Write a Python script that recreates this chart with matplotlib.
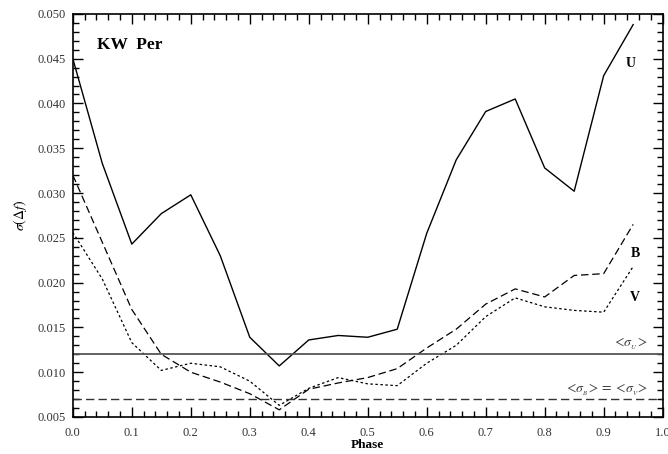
import numpy as np
import matplotlib
matplotlib.use("Agg")
import matplotlib.pyplot as plt
from matplotlib.ticker import MultipleLocator

plt.rcParams["font.family"] = ["Liberation Serif", "DejaVu Serif"]
plt.rcParams["mathtext.fontset"] = "stix"

phase = [0.0, 0.05, 0.1, 0.15, 0.2, 0.25, 0.3, 0.35, 0.4, 0.45,
         0.5, 0.55, 0.6, 0.65, 0.7, 0.75, 0.8, 0.85, 0.9, 0.95]
sig_u = [0.0450, 0.0333, 0.0243, 0.0277, 0.0298, 0.0230, 0.0139, 0.0107, 0.0136, 0.0141,
         0.0139, 0.0148, 0.0255, 0.0337, 0.0391, 0.0405, 0.0328, 0.0302, 0.0431, 0.0488]
sig_b = [0.0320, 0.0245, 0.0170, 0.0120, 0.0100, 0.0089, 0.0076, 0.0058, 0.0081, 0.0088,
         0.0094, 0.0104, 0.0127, 0.0148, 0.0176, 0.0193, 0.0184, 0.0208, 0.0210, 0.0265]
sig_v = [0.0256, 0.0204, 0.0133, 0.0102, 0.0110, 0.0106, 0.0090, 0.0063, 0.0082, 0.0094,
         0.0087, 0.0085, 0.0110, 0.0130, 0.0162, 0.0183, 0.0173, 0.0169, 0.0167, 0.0218]
mean_u = 0.012
mean_bv = 0.007

fig = plt.figure(figsize=(6.68, 4.54), dpi=100)
ax = fig.add_axes([0.109, 0.0815, 0.883, 0.888])

ax.plot(phase, sig_u, color="black", lw=1.0, ls="-")
ax.plot(phase, sig_b, color="black", lw=0.9, ls=(0, (6, 3)))
ax.plot(phase, sig_v, color="black", lw=0.9, ls=(0, (2, 2)))
ax.axhline(mean_u, color="#555555", lw=1.3)
ax.axhline(mean_bv, color="#333333", lw=1.0, ls=(0, (6, 3)))

ax.set_xlim(0, 1.0)
ax.set_ylim(0.005, 0.050)
ax.xaxis.set_major_locator(MultipleLocator(0.1))
ax.xaxis.set_minor_locator(MultipleLocator(0.02))
ax.yaxis.set_major_locator(MultipleLocator(0.005))
ax.yaxis.set_minor_locator(MultipleLocator(0.001))
ax.xaxis.set_major_formatter(plt.FuncFormatter(lambda v, p: f"{v:.1f}"))
ax.yaxis.set_major_formatter(plt.FuncFormatter(lambda v, p: f"{v:.3f}"))
ax.tick_params(which="both", direction="in", top=True, right=True,
               labelsize=9, width=1.0, labelcolor="#333333")
ax.tick_params(axis="x", which="major", pad=7)
ax.tick_params(axis="y", which="major", pad=5)
ax.tick_params(which="major", length=7)
ax.tick_params(which="minor", length=4)
for sp in ax.spines.values():
    sp.set_linewidth(1.2)

ax.set_xlabel("Phase", fontsize=9.5, fontweight="bold", labelpad=0)
ax.set_ylabel(r"$\sigma(\Delta f)$", fontsize=10, labelpad=6)

ax.text(0.041, 0.0465, "KW  Per", fontsize=12.5, fontweight="bold",
        va="center", ha="left")
ax.text(0.945, 0.0445, "U", fontsize=10, fontweight="bold", ha="center", va="center")
ax.text(0.953, 0.0233, "B", fontsize=10, fontweight="bold", ha="center", va="center")
ax.text(0.953, 0.0183, "V", fontsize=10, fontweight="bold", ha="center", va="center")
ax.text(0.945, 0.0131, r"$<\!\sigma_{_U}\!>$", fontsize=10, ha="center", va="center",
        color="#444444")
ax.text(0.905, 0.0080, r"$<\!\sigma_{_B}\!>=<\!\sigma_{_V}\!>$", fontsize=10,
        ha="center", va="center", color="#444444")

fig.savefig("out.png", dpi=100)
